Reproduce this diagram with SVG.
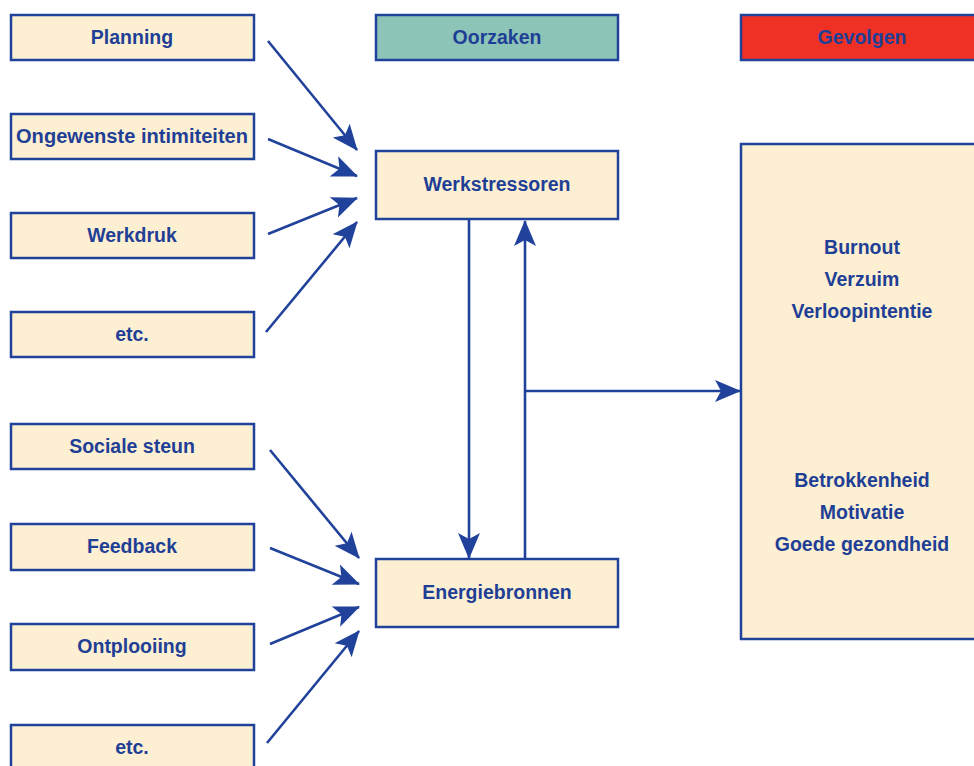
<svg xmlns="http://www.w3.org/2000/svg" width="974" height="766" viewBox="0 0 974 766">
<style>
.box{fill:#fdefd2;stroke:#21429a;stroke-width:2.5}
.t{font-family:"Liberation Sans","DejaVu Sans",sans-serif;font-weight:bold;font-size:19.5px;fill:#1f3f96;text-anchor:middle}
.c{stroke:#21429a;stroke-width:2.6;fill:none;marker-end:url(#ah)}
</style>
<defs>
<marker id="ah" markerUnits="userSpaceOnUse" markerWidth="28" markerHeight="26" viewBox="0 0 28 26" refX="25" refY="13" orient="auto">
<path d="M0,2 L26,13 L0,24 L6,13 z" fill="#21429a"/>
</marker>
</defs>
<rect width="974" height="766" fill="#ffffff"/>
<g id="planning"><rect class="box" x="11" y="15" width="243" height="45"/><text class="t" x="132" y="44">Planning</text></g>
<g id="ongewenste"><rect class="box" x="11" y="114" width="243" height="45"/><text class="t" x="132" y="143" textLength="232" lengthAdjust="spacingAndGlyphs">Ongewenste intimiteiten</text></g>
<g id="werkdruk"><rect class="box" x="11" y="213" width="243" height="45"/><text class="t" x="132" y="242">Werkdruk</text></g>
<g id="etc1"><rect class="box" x="11" y="312" width="243" height="45"/><text class="t" x="132" y="341">etc.</text></g>
<g id="sociale"><rect class="box" x="11" y="424" width="243" height="45"/><text class="t" x="132" y="453">Sociale steun</text></g>
<g id="feedback"><rect class="box" x="11" y="524" width="243" height="46"/><text class="t" x="132" y="553">Feedback</text></g>
<g id="ontplooiing"><rect class="box" x="11" y="624" width="243" height="46"/><text class="t" x="132" y="653">Ontplooiing</text></g>
<g id="etc2"><rect class="box" x="11" y="725" width="243" height="46"/><text class="t" x="132" y="754">etc.</text></g>
<g id="oorzaken"><rect class="box" x="376" y="15" width="242" height="45" style="fill:#8dc4b8"/><text class="t" x="497" y="44">Oorzaken</text></g>
<g id="gevolgen"><rect class="box" x="741" y="15" width="250" height="45" style="fill:#ee3124"/><text class="t" x="862" y="44">Gevolgen</text></g>
<g id="werkstressoren"><rect class="box" x="376" y="151" width="242" height="68"/><text class="t" x="497" y="191">Werkstressoren</text></g>
<g id="energiebronnen"><rect class="box" x="376" y="559" width="242" height="68"/><text class="t" x="497" y="599">Energiebronnen</text></g>
<g id="gevolgen-box"><rect class="box" x="741" y="144" width="250" height="495"/>
<text class="t" x="862" y="254">Burnout</text>
<text class="t" x="862" y="286">Verzuim</text>
<text class="t" x="862" y="318">Verloopintentie</text>
<text class="t" x="862" y="487">Betrokkenheid</text>
<text class="t" x="862" y="519">Motivatie</text>
<text class="t" x="862" y="551">Goede gezondheid</text>
</g>
<g id="connectors">
<line class="c" x1="268" y1="41" x2="357" y2="150"/>
<line class="c" x1="268" y1="139" x2="357" y2="176"/>
<line class="c" x1="268" y1="234" x2="357" y2="198"/>
<line class="c" x1="266" y1="332" x2="357" y2="222"/>
<line class="c" x1="270" y1="450" x2="359" y2="558"/>
<line class="c" x1="270" y1="548" x2="359" y2="584"/>
<line class="c" x1="270" y1="644" x2="359" y2="607"/>
<line class="c" x1="267" y1="743" x2="359" y2="631"/>
<line class="c" x1="469" y1="220" x2="469" y2="558"/>
<line class="c" x1="525" y1="558" x2="525" y2="221"/>
<line class="c" x1="525" y1="391" x2="740" y2="391"/>
</g>
</svg>
